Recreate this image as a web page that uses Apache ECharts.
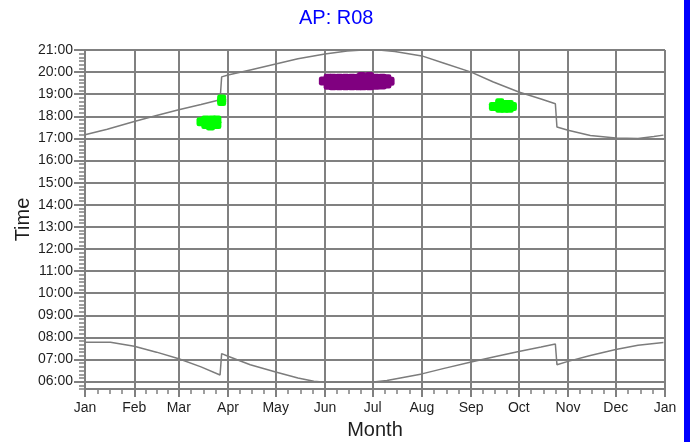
<!DOCTYPE html>
<html><head><meta charset="utf-8">
<script src="https://cdn.jsdelivr.net/npm/echarts@6/dist/echarts.min.js"></script>
<style>html,body{margin:0;padding:0;background:#fff}#c{width:691px;height:442px}</style>
</head><body><div id="c"></div>
<script>
const YEAR = 2023;
const monthLabels = ['Jan','Feb','Mar','Apr','May','Jun','Jul','Aug','Sep','Oct','Nov','Dec'];
const timeTickLabels = ['06:00','07:00','08:00','09:00','10:00','11:00','12:00','13:00','14:00','15:00','16:00','17:00','18:00','19:00','20:00','21:00'];
const axisStartTime = '05:40';
const axisEndTime = '21:00';

// sunset line (top)
const sunsetDates = ['01-01','01-15','02-01','02-15','03-01','03-15','03-27','03-28','04-01','04-15','05-01','05-15','06-01','06-15','06-25','07-05','07-15','08-01','08-15','09-01','09-15','10-01','10-15','10-24','10-25','11-01','11-15','12-01','12-15','12-25','12-31'];
const sunsetTimes = ['17:10','17:25','17:46','18:02','18:18','18:32','18:45','19:47','19:52','20:06','20:22','20:36','20:49','20:57','21:00','21:00','20:56','20:44','20:24','20:00','19:33','19:06','18:47','18:34','17:31','17:22','17:08','17:01','17:00','17:05','17:09'];

// sunrise line (bottom)
const sunriseDates = ['01-01','01-17','02-01','02-15','03-01','03-15','03-27','03-28','04-01','04-15','05-01','05-15','05-25','06-01','06-30','07-10','08-01','08-15','09-01','09-15','10-01','10-15','10-24','10-25','11-01','11-15','12-01','12-15','12-31'];
const sunriseTimes = ['07:47','07:47','07:36','07:20','07:02','06:40','06:18','07:16','07:09','06:46','06:26','06:10','06:01','05:58','05:58','06:03','06:21','06:36','06:53','07:07','07:22','07:34','07:42','06:46','06:55','07:11','07:27','07:39','07:46'];

// green detections
const greenDates = ['03-15','03-18','03-18','03-22','03-22','03-25','03-25','03-21','03-28','03-28','09-15','09-19','09-19','09-22','09-22','09-25','09-25','09-27','09-19'];
const greenTimes = ['17:45','17:50','17:38','17:50','17:38','17:50','17:38','17:34','18:47','18:40','18:27','18:32','18:22','18:32','18:22','18:32','18:22','18:27','18:37'];

// purple detections
const purpleDates = ['05-31','06-03','06-03','06-06','06-06','06-10','06-10','06-14','06-14','06-18','06-18','06-22','06-22','06-25','06-25','06-29','06-29','07-03','07-03','07-07','07-07','07-10','07-10','07-12','06-24','06-29'];
const purpleTimes = ['19:36','19:43','19:24','19:43','19:23','19:43','19:23','19:43','19:23','19:43','19:23','19:43','19:23','19:43','19:23','19:43','19:23','19:43','19:24','19:43','19:25','19:42','19:28','19:35','19:48','19:48'];

function toTs(md, year){ const p = md.split('-'); return new Date(year || YEAR, +p[0]-1, +p[1]).getTime(); }
function toMin(t){ const p = t.split(':'); return (+p[0])*60 + (+p[1]); }
function pairs(ds, ts){ return ds.map((d,i)=>[toTs(d), toMin(ts[i])]); }

const GRID = '#808080';
const TXT = '#1e1e1e';
const FONT = 'Liberation Sans, Arial, sans-serif';
const tickMinutes = timeTickLabels.map(toMin);

const chart = echarts.init(document.getElementById('c'), null, {renderer:'canvas'});
chart.setOption({
  animation: false,
  backgroundColor: '#ffffff',
  title: {
    text: 'AP: R08', left: 299, top: 8, padding: 0,
    textStyle: {color:'#0000ff', fontSize:20, fontWeight:'normal', fontFamily: FONT}
  },
  graphic: [{type:'rect', right:1, top:0, shape:{width:6, height:442}, style:{fill:'#0000ff'}, silent:true}],
  grid: {left:85, right:26, top:50, bottom:53, containLabel:false, outerBoundsMode:'none'},
  xAxis: {
    type:'time',
    min: toTs('01-01'), max: toTs('01-01', YEAR+1),
    splitNumber: 12, minInterval: 28*86400000, maxInterval: 31*86400000,
    name:'Month', nameLocation:'middle', nameGap:31, nameMoveOverlap:false,
    nameTextStyle:{color:TXT, fontSize:20, fontFamily:FONT},
    axisLine:{show:true, lineStyle:{color:GRID, width:2}},
    axisTick:{show:true, length:8, lineStyle:{color:GRID, width:2}},
    minorTick:{show:true, splitNumber:4, length:5, lineStyle:{color:GRID, width:1.5}},
    splitLine:{show:true, lineStyle:{color:GRID, width:2}},
    axisLabel:{show:true, margin:12, color:TXT, fontSize:14, fontFamily:FONT, showMinLabel:true, showMaxLabel:true, hideOverlap:false,
      formatter: v => monthLabels[new Date(v).getMonth()]}
  },
  yAxis: [
    {
      type:'value', position:'left', min: toMin(axisStartTime), max: toMin(axisEndTime), interval:10,
      axisLine:{show:true, lineStyle:{color:GRID, width:2}},
      axisTick:{show:true, length:6, lineStyle:{color:GRID, width:1.5}},
      axisLabel:{show:false}, splitLine:{show:false}
    },
    {
      type:'value', position:'left', min: toMin(axisStartTime), max: toMin(axisEndTime),
      minInterval:60, maxInterval:60, splitNumber:15,
      name:'Time', nameLocation:'middle', nameGap:52, nameRotate:90, nameMoveOverlap:false,
      nameTextStyle:{color:TXT, fontSize:20, fontFamily:FONT},
      axisLine:{show:false},
      axisTick:{show:true, length:11, lineStyle:{color:GRID, width:2}, customValues: tickMinutes},
      axisLabel:{show:true, margin:12, color:TXT, fontSize:14, fontFamily:FONT, customValues: tickMinutes,
        formatter: v => { const i = tickMinutes.indexOf(v); return i >= 0 ? timeTickLabels[i] : ''; }},
      splitLine:{show:true, lineStyle:{color:GRID, width:2}}
    }
  ],
  series: [
    {type:'line', yAxisIndex:0, data: pairs(sunsetDates, sunsetTimes), showSymbol:false, symbol:'none',
      lineStyle:{color:'#7c7c7c', width:1.5}, z:3},
    {type:'line', yAxisIndex:0, data: pairs(sunriseDates, sunriseTimes), showSymbol:false, symbol:'none',
      lineStyle:{color:'#7c7c7c', width:1.5}, z:3},
    {type:'scatter', yAxisIndex:0, data: pairs(greenDates, greenTimes), symbol:'roundRect', symbolSize:9,
      itemStyle:{color:'#00ff00', opacity:1}, z:4},
    {type:'scatter', yAxisIndex:0, data: pairs(purpleDates, purpleTimes), symbol:'roundRect', symbolSize:9,
      itemStyle:{color:'#800080', opacity:1}, z:4}
  ]
});
</script></body></html>
